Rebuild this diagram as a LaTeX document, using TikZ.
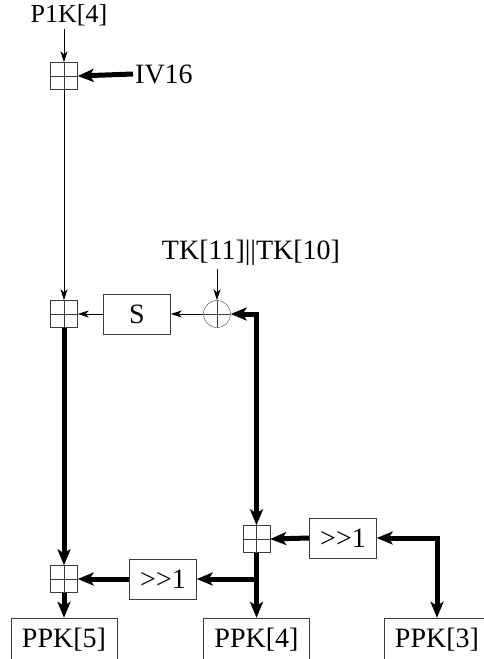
\documentclass[tikz,border=0pt]{standalone}
\usepackage{fontspec}
\setmainfont{Liberation Serif}
\usetikzlibrary{arrows.meta,positioning}
\definecolor{keyGray}{RGB}{60,60,60}

\begin{document}
\begin{tikzpicture}[
  x=1pt,y=-1pt,
  font=\fontsize{28}{32}\selectfont,
  adder/.style={
    draw=keyGray,
    minimum size=27pt,
    inner sep=0pt,
    path picture={
      \draw[keyGray] (path picture bounding box.north) -- (path picture bounding box.south)
        (path picture bounding box.west) -- (path picture bounding box.east);
    }
  },
  xorop/.style={
    draw=keyGray,
    circle,
    minimum size=27pt,
    inner sep=0pt,
    path picture={
      \draw[keyGray] (path picture bounding box.north) -- (path picture bounding box.south)
        (path picture bounding box.west) -- (path picture bounding box.east);
    }
  },
  opbox/.style={
    draw=keyGray,
    minimum width=67pt,
    minimum height=40pt,
    inner sep=0pt
  },
  outbox/.style={
    draw=keyGray,
    minimum width=106pt,
    minimum height=44pt,
    inner sep=0pt
  },
  thinarrow/.style={-{Stealth[length=11pt,width=7pt,inset=3pt]},line width=0.8pt},
  arrow/.style={-{Stealth[length=16pt,width=13pt,inset=4pt]},line width=5pt},
  twoarrow/.style={{Stealth[length=16pt,width=13pt,inset=4pt]}-{Stealth[length=16pt,width=13pt,inset=4pt]},line width=5pt}
]
  \useasboundingbox (0,0) rectangle (483,659);

  % left column
  \node[font=\fontsize{26}{30}\selectfont] (p1k) at (69,15) {P1K[4]};
  \node[adder] (add1) at (64,76) {};
  \node[anchor=west,inner sep=2pt] (iv16) at (133,74) {IV16};
  \node[adder] (add2) at (64,314) {};
  \node[adder] (add4) at (64,579) {};
  \node[outbox] (ppk5) at (64,640) {PPK[5]};

  % key mixing
  \node[opbox] (sbox) at (137,314) {S};
  \node[xorop] (xor) at (217,314) {};
  \node (tk) at (251,253) {TK[11]||TK[10]};

  % right part
  \node[adder] (add3) at (256.5,539) {};
  \node[opbox] (shr2) at (343,538) {>{}>1};
  \node[opbox] (shr1) at (163,579) {>{}>1};
  \node[outbox] (ppk4) at (256.5,640) {PPK[4]};
  \node[outbox] (ppk3) at (437,640) {PPK[3]};

  \draw[thinarrow] (p1k.south -| add1.north) -- (add1.north);
  \draw[arrow] (iv16.west) -- (add1.east);
  \draw[thinarrow] (add1.south) -- (add2.north);
  \draw[thinarrow] (tk.south -| xor.north) -- (xor.north);
  \draw[thinarrow] (xor.west) -- (sbox.east);
  \draw[thinarrow] (sbox.west) -- (add2.east);
  \draw[twoarrow] (xor.east) -| (add3.north);
  \draw[arrow] (add2.south) -- (add4.north);
  \draw[arrow] (add4.south) -- (ppk5.north);
  \draw[arrow] (shr1.west) -- (add4.east);
  \draw[arrow] (shr2.west) -- (add3.east);
  \draw[arrow] (add3.south) -- (ppk4.north);
  \draw[arrow] (add3.south |- shr1.east) -- (shr1.east);
  \draw[twoarrow] (shr2.east) -| (ppk3.north);
\end{tikzpicture}
\end{document}
